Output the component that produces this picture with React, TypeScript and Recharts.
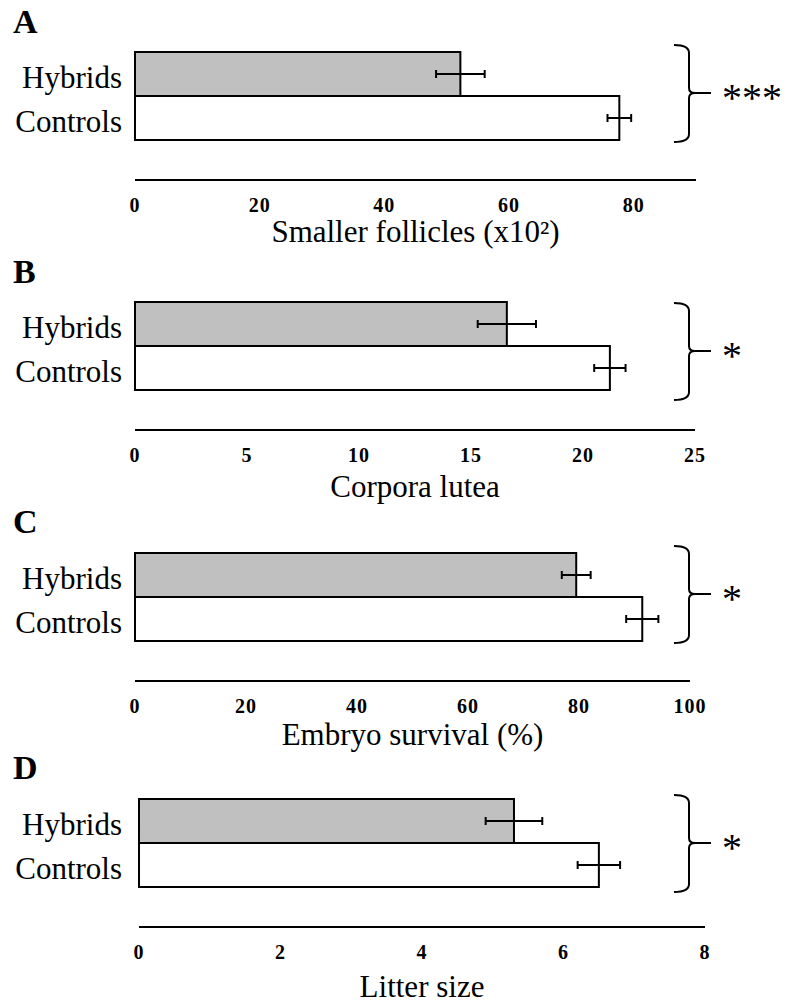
import React from 'react';
import { BarChart, Bar, XAxis, YAxis, ErrorBar, Cell } from 'recharts';

const groups = ['Hybrids', 'Controls'];
const groupFills = ['#c0c0c0', '#ffffff'];

const follicleMeans = [52.2, 77.7];
const follicleErrors = [3.9, 1.9];
const follicleTicks = [0, 20, 40, 60, 80];

const corporaMeans = [16.6, 21.2];
const corporaErrors = [1.3, 0.7];
const corporaTicks = [0, 5, 10, 15, 20, 25];

const survivalMeans = [79.5, 91.4];
const survivalErrors = [2.6, 2.9];
const survivalTicks = [0, 20, 40, 60, 80, 100];

const litterMeans = [5.3, 6.5];
const litterErrors = [0.4, 0.3];
const litterTicks = [0, 2, 4, 6, 8];

const FONT = "'Liberation Serif', 'Times New Roman', Times, serif";
const CHART_H = 262;
const LABEL_RIGHT = 122; // right edge of the group labels

interface PanelProps {
  letter: string;
  title: string;
  means: number[];
  errors: number[];
  ticks: number[];
  max: number;
  stars: string;
  top: number; // page y of panel
  axisY: number; // page y of the axis line
  left: number;
  right: number;
  titleBaseline: number;
  bracketTop: number;
}

const Panel: React.FC<PanelProps> = (p) => {
  const data = groups.map((name, i) => ({ name, value: p.means[i], err: p.errors[i] }));
  const axisRel = p.axisY - p.top;
  const marginTop = axisRel - 128;
  const bt = p.bracketTop - p.top;
  const bb = bt + 97;
  const bm = bt + 48;

  return (
    <div style={{ position: 'absolute', left: 0, top: p.top, width: 785, height: CHART_H }}>
      <BarChart
        width={785}
        height={CHART_H}
        data={data}
        layout="vertical"
        barCategoryGap={0}
        margin={{ top: marginTop, right: 785 - p.right, bottom: 0, left: 0 }}
      >
        <XAxis
          type="number"
          domain={[0, p.max]}
          ticks={p.ticks}
          interval={0}
          height={CHART_H - axisRel}
          tickLine={false}
          tickSize={0}
          tickMargin={18}
          axisLine={{ stroke: '#000', strokeWidth: 2 }}
          tick={{ fontSize: 20, fontWeight: 'bold', fill: '#000', fontFamily: FONT, letterSpacing: 1 }}
          label={{
            value: p.title,
            position: 'insideTop',
            offset: p.titleBaseline - p.axisY - 22,
            fontSize: 31,
            fill: '#000',
            fontFamily: FONT,
          }}
        />
        <YAxis
          type="category"
          dataKey="name"
          width={p.left}
          interval={0}
          padding={{ top: 0, bottom: 40 }}
          tickLine={false}
          axisLine={false}
          tickSize={0}
          tickMargin={p.left - LABEL_RIGHT}
          tick={{ fontSize: 31, fill: '#000', fontFamily: FONT, dy: 3 }}
        />
        <Bar dataKey="value" stroke="#000" strokeWidth={2} isAnimationActive={false}>
          {data.map((d, i) => (
            <Cell key={d.name} fill={groupFills[i]} />
          ))}
          <ErrorBar dataKey="err" direction="x" width={4} stroke="#000" strokeWidth={2} isAnimationActive={false} />
        </Bar>
      </BarChart>
      <svg
        width={785}
        height={CHART_H}
        style={{ position: 'absolute', left: 0, top: 0, pointerEvents: 'none' }}
      >
        <text x={13} y={33} fontFamily={FONT} fontWeight="bold" fontSize={34} fill="#000">
          {p.letter}
        </text>
        <path
          d={`M 674 ${bt} Q 689 ${bt} 689 ${bt + 8} L 689 ${bm - 5} Q 689 ${bm} 695 ${bm} L 711 ${bm} M 695 ${bm} Q 689 ${bm} 689 ${bm + 5} L 689 ${bb - 8} Q 689 ${bb} 674 ${bb}`}
          fill="none"
          stroke="#000"
          strokeWidth={2}
        />
        <text x={722} y={bm + 18} fontFamily={FONT} fontSize={40} fill="#000">
          {p.stars}
        </text>
      </svg>
    </div>
  );
};

export default function App() {
  return (
    <div style={{ position: 'absolute', left: 0, top: 0, width: 785, height: 1004, background: '#fff' }}>
      <Panel
        letter="A"
        title="Smaller follicles (x10²)"
        means={follicleMeans}
        errors={follicleErrors}
        ticks={follicleTicks}
        max={90}
        stars="***"
        top={0}
        axisY={180}
        left={135}
        right={696}
        titleBaseline={242}
        bracketTop={45}
      />
      <Panel
        letter="B"
        title="Corpora lutea"
        means={corporaMeans}
        errors={corporaErrors}
        ticks={corporaTicks}
        max={25}
        stars="*"
        top={250}
        axisY={430}
        left={135}
        right={695}
        titleBaseline={497}
        bracketTop={303}
      />
      <Panel
        letter="C"
        title="Embryo survival (%)"
        means={survivalMeans}
        errors={survivalErrors}
        ticks={survivalTicks}
        max={100}
        stars="*"
        top={500}
        axisY={681}
        left={135}
        right={690}
        titleBaseline={745}
        bracketTop={546}
      />
      <Panel
        letter="D"
        title="Litter size"
        means={litterMeans}
        errors={litterErrors}
        ticks={litterTicks}
        max={8}
        stars="*"
        top={746}
        axisY={927}
        left={139}
        right={705}
        titleBaseline={997}
        bracketTop={795}
      />
    </div>
  );
}
